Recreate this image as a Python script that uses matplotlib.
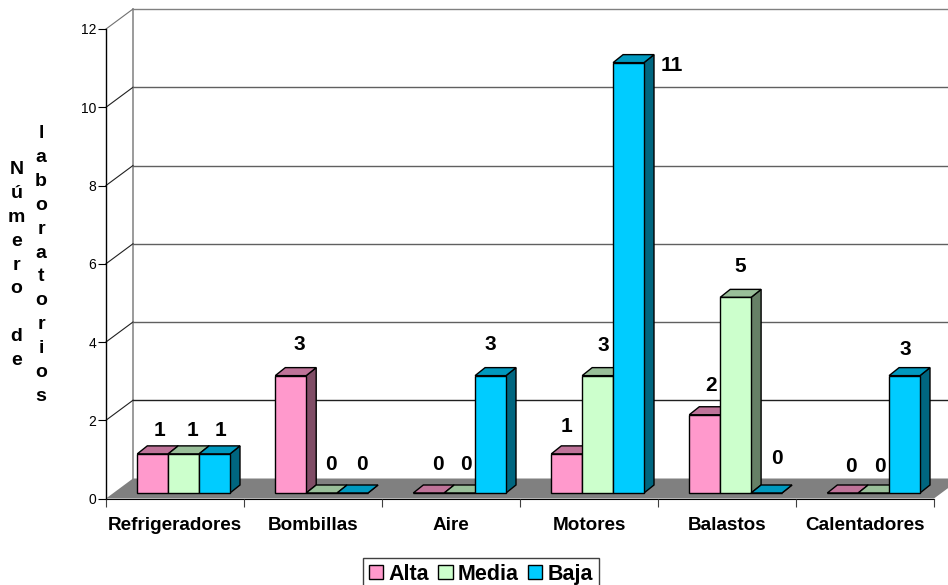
import matplotlib
matplotlib.use("Agg")
import matplotlib.pyplot as plt

plt.rcParams['font.family'] = ['Liberation Sans', 'DejaVu Sans']

categories = ["Refrigeradores", "Bombillas", "Aire", "Motores", "Balastos", "Calentadores"]
alta = [1, 3, 0, 1, 2, 0]
media = [1, 0, 0, 3, 5, 0]
baja = [1, 0, 3, 11, 0, 3]
y_ticks = [0, 2, 4, 6, 8, 10, 12]

W, H = 948, 585
left, right, bottom, top = 106, 934, 498.5, 29
PX_X = (right - left) / 6
PX_Y = (bottom - top) / 12
# wall depth and bar depth, in data units
wall_dx, wall_dy = 27 / PX_X, 20 / PX_Y
bar_dx, bar_dy = 10 / PX_X, 8 / PX_Y
bar_w = 30.9 / PX_X
bar_x0 = 31.3 / PX_X
bar_base = 5.5 / PX_Y

series = [
    ("Alta", alta, "#FF99CC", "#BF7399", "#804D66"),
    ("Media", media, "#CCFFCC", "#99BF99", "#668066"),
    ("Baja", baja, "#00CCFF", "#0099BF", "#006680"),
]

# label nudges in pixels from the middle of each bar's top edge
label_offsets = {
    "Alta": [(7, 23), (9, 31), (9, 28), (0, 27), (6, 29), (8, 27)],
    "Media": [(9, 23), (9, 28), (6, 28), (6, 30), (5, 31), (6, 27)],
    "Baja": [(6, 23), (9, 28), (0, 31), (43, -3), (10, 35), (1, 26)],
}

fig = plt.figure(figsize=(W / 100, H / 100), dpi=100)
ax = fig.add_axes([left / W, 1 - bottom / H, (right - left) / W, (bottom - top) / H])
ax.set_xlim(0, 6)
ax.set_ylim(0, 12)
ax.patch.set_visible(False)

# floor
ax.fill([0, 6, 6 + wall_dx, wall_dx], [0, 0, wall_dy, wall_dy], color="#808080", lw=0, zorder=1, clip_on=False)

# back wall and grid
ax.plot([wall_dx, wall_dx], [wall_dy, 12 + wall_dy], color="#808080", lw=1.1, zorder=1, clip_on=False)
for t in y_ticks[1:]:
    c_diag = "#707070" if t == 12 else "#202020"
    c_line = "#808080" if t == 12 else ("#202020" if t == 2 else "#606060")
    ax.plot([0, wall_dx], [t, t + wall_dy], color=c_diag, lw=0.8, zorder=1, clip_on=False)
    ax.plot([wall_dx, 6 + wall_dx], [t + wall_dy, t + wall_dy], color=c_line, lw=1, zorder=1, clip_on=False)

# bars, back to front, left to right
z = 2
legend_handles = []
for i in range(len(categories)):
    for j, (name, vals, front, top_c, side) in enumerate(series):
        x = i + bar_x0 + j * bar_w
        v = vals[i]
        ax.fill([x + bar_w, x + bar_w + bar_dx, x + bar_w + bar_dx, x + bar_w],
                [bar_base, bar_base + bar_dy, bar_base + v + bar_dy, bar_base + v],
                facecolor=side, edgecolor="black", lw=1, zorder=z, clip_on=False)
        ax.fill([x, x + bar_w, x + bar_w + bar_dx, x + bar_dx],
                [bar_base + v, bar_base + v, bar_base + v + bar_dy, bar_base + v + bar_dy],
                facecolor=top_c, edgecolor="black", lw=1, zorder=z, clip_on=False)
        b = ax.bar(x, v, bar_w, bottom=bar_base, align="edge", facecolor=front,
                   edgecolor="black", lw=1, zorder=z, clip_on=False)
        if i == 0:
            legend_handles.append(b[0])
        z += 1

# value labels
for i in range(len(categories)):
    for j, (name, vals, front, top_c, side) in enumerate(series):
        x = i + bar_x0 + j * bar_w + bar_w / 2
        ax.annotate(str(vals[i]), (x, bar_base + vals[i]), xytext=label_offsets[name][i],
                    textcoords="offset pixels", ha="center", va="center",
                    fontsize=15, fontweight="bold", zorder=100, annotation_clip=False)

# axes
for s in ["top", "right"]:
    ax.spines[s].set_visible(False)
ax.spines["left"].set_linewidth(1)
ax.spines["bottom"].set_linewidth(0.8)
ax.spines["left"].set_zorder(1.5)
ax.spines["bottom"].set_zorder(1.5)
ax.set_yticks(y_ticks)
ax.tick_params(axis="y", direction="out", length=5.5, width=0.8, labelsize=10, pad=1.5)
ax.set_xticks(range(7))
ax.set_xticklabels([])
ax.tick_params(axis="x", which="major", direction="out", length=6, width=0.8, color="#404040")
ax.set_xticks([i + 0.5 for i in range(6)], minor=True)
ax.set_xticklabels(categories, minor=True, fontsize=13.6, fontweight="bold")
ax.tick_params(axis="x", which="minor", length=0, pad=13.5)

# stacked y title, one letter per line
for word, px in [("Número de", 16.5), ("laboratorios", 41)]:
    fig.text(px / W, 1 - 265 / H, "\n".join(word), ha="center", va="center",
             fontsize=14, fontweight="bold", linespacing=1.53)

leg = fig.legend(legend_handles, [s[0] for s in series], ncol=3, loc="lower center",
                 bbox_to_anchor=(481 / W, -5 / H), frameon=True, fancybox=False, edgecolor="#404040",
                 framealpha=1, prop={"weight": "bold", "size": 15.5}, handlelength=0.68, handleheight=0.68,
                 handletextpad=0.25, columnspacing=0.4, borderpad=0.25, borderaxespad=0)
leg.get_frame().set_linewidth(1)

fig.savefig("out.png", dpi=100)
